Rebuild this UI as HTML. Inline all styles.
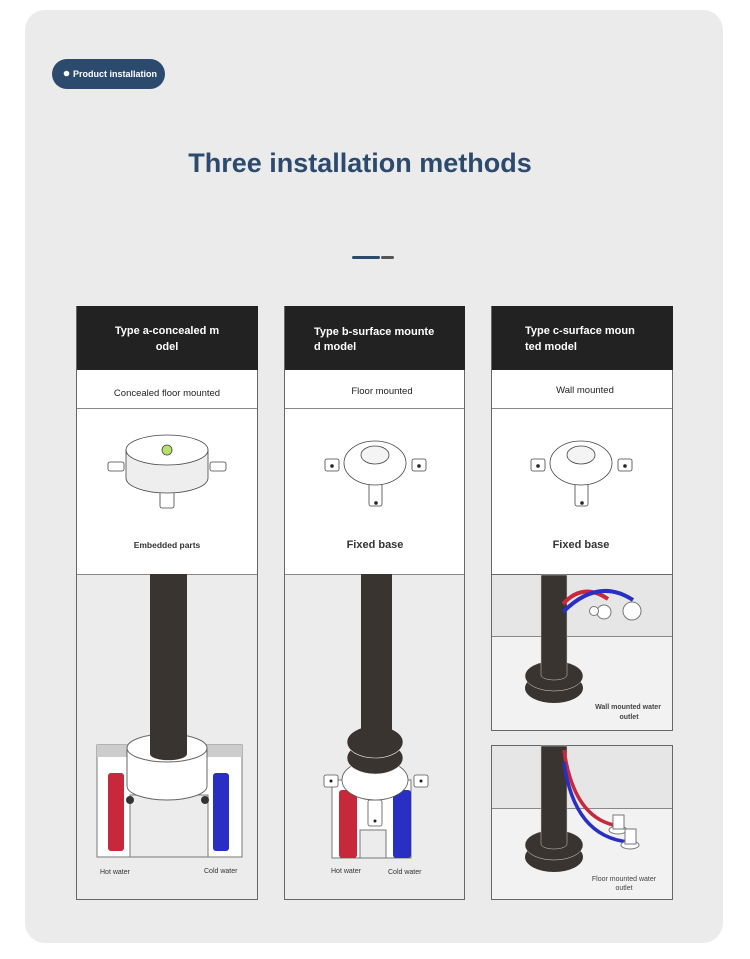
<!DOCTYPE html>
<html><head><meta charset="utf-8"><style>
html,body{margin:0;padding:0;background:#fff;}
svg{display:block;font-family:"Liberation Sans",sans-serif;}
</style></head><body>
<svg width="750" height="959" viewBox="0 0 750 959" xmlns="http://www.w3.org/2000/svg">
<rect x="25" y="10" width="698" height="933" rx="20" fill="#ebebeb"/>
<!-- pill -->
<rect x="52" y="59" width="113" height="30" rx="15" fill="#2c4a6e"/>
<circle cx="66.5" cy="73.5" r="2.8" fill="#fff"/>
<text x="73" y="77" font-size="9" font-weight="bold" fill="#fff">Product installation</text>
<!-- title -->
<text x="360" y="172" font-size="27" font-weight="bold" fill="#2c4a6e" text-anchor="middle">Three installation methods</text>
<rect x="352" y="256" width="28" height="3" rx="1.5" fill="#2c4a6e"/>
<rect x="381" y="256" width="13" height="3" rx="1.5" fill="#555"/>

<!-- column frames -->
<g stroke="#666" stroke-width="1">
<rect x="76.5" y="306.5" width="181" height="593" fill="#fff"/>
<rect x="284.5" y="306.5" width="180" height="593" fill="#fff"/>
<rect x="491.5" y="306.5" width="181" height="268" fill="#fff"/>
</g>
<rect x="77" y="306" width="181" height="64" fill="#222"/>
<rect x="285" y="306" width="180" height="64" fill="#222"/>
<rect x="492" y="306" width="181" height="64" fill="#222"/>
<g stroke="#888" stroke-width="1">
<line x1="77" y1="408.5" x2="257" y2="408.5"/><line x1="285" y1="408.5" x2="464" y2="408.5"/><line x1="492" y1="408.5" x2="672" y2="408.5"/>
</g>
<g font-size="11" font-weight="bold" fill="#fff">
<text x="167" y="334" text-anchor="middle">Type a-concealed m</text>
<text x="167" y="350" text-anchor="middle">odel</text>
<text x="314" y="335">Type b-surface mounte</text>
<text x="314" y="350">d model</text>
<text x="525" y="334">Type c-surface moun</text>
<text x="525" y="350">ted model</text>
</g>
<g font-size="9.5" fill="#222" text-anchor="middle">
<text x="167" y="396">Concealed floor mounted</text>
<text x="382" y="394">Floor mounted</text>
<text x="585" y="393">Wall mounted</text>
</g>
<g font-weight="bold" fill="#333" text-anchor="middle">
<text x="167" y="548" font-size="8.5">Embedded parts</text>
<text x="375" y="548" font-size="11">Fixed base</text>
<text x="581" y="548" font-size="11">Fixed base</text>
</g>

<!-- embedded part icon -->
<g stroke="#444" stroke-width="0.8" fill="#fff">
<rect x="108" y="462" width="16" height="9" rx="2"/><rect x="210" y="462" width="16" height="9" rx="2"/>
<rect x="160" y="490" width="14" height="18" rx="2"/>
<path d="M126 450 v28 a41 15 0 0 0 82 0 v-28" fill="#eee"/>
<ellipse cx="167" cy="450" rx="41" ry="15"/>
<circle cx="167" cy="450" r="5" fill="#b6e26b"/>
</g>
<!-- fixed base icons -->
<g stroke="#444" stroke-width="0.8" fill="#fff">
<g id="fb">
<rect x="325" y="459" width="14" height="12" rx="2"/><rect x="412" y="459" width="14" height="12" rx="2"/>
<rect x="369" y="484" width="13" height="22" rx="2"/>
<ellipse cx="375" cy="463" rx="31" ry="22"/>
<ellipse cx="375" cy="455" rx="14" ry="9" fill="#f4f4f4"/>
<circle cx="332" cy="466" r="1.5" fill="#222"/><circle cx="419" cy="466" r="1.5" fill="#222"/><circle cx="376" cy="503" r="1.5" fill="#222"/>
</g>
<use href="#fb" x="206"/>
</g>

<!-- lower a -->
<rect x="77" y="574" width="180" height="325" fill="#ececec"/>
<line x1="77" y1="574.5" x2="257" y2="574.5" stroke="#888"/>
<rect x="97" y="745" width="145" height="112" fill="#fff" stroke="#777"/>
<rect x="97" y="745" width="145" height="12" fill="#ccc"/>
<rect x="130" y="795" width="78" height="62" fill="#ececec" stroke="#777"/>
<rect x="108" y="773" width="16" height="78" rx="3" fill="#c8283c"/>
<rect x="213" y="773" width="16" height="78" rx="3" fill="#2a2fc4"/>
<path d="M127 748 v38 a40 14 0 0 0 80 0 v-38" fill="#fff" stroke="#666"/>
<ellipse cx="167" cy="748" rx="40" ry="14" fill="#fff" stroke="#666"/>
<circle cx="130" cy="800" r="4" fill="#333"/><circle cx="205" cy="800" r="4" fill="#333"/>
<path d="M150 574 h37 v180 a18 6 0 0 1 -37 0z" fill="#3a3431"/>
<text x="100" y="874" font-size="7" fill="#333">Hot water</text>
<text x="204" y="873" font-size="7" fill="#333">Cold water</text>

<!-- lower b -->
<rect x="285" y="574" width="179" height="325" fill="#ececec"/>
<line x1="285" y1="574.5" x2="464" y2="574.5" stroke="#888"/>
<rect x="332" y="780" width="79" height="78" fill="#fff" stroke="#777"/>
<rect x="360" y="830" width="26" height="28" fill="#ececec" stroke="#777"/>
<rect x="339" y="790" width="18" height="68" rx="3" fill="#c8283c"/>
<rect x="393" y="790" width="18" height="68" rx="3" fill="#2a2fc4"/>
<g stroke="#555" stroke-width="0.8" fill="#fff">
<rect x="324" y="775" width="14" height="12" rx="2"/><rect x="414" y="775" width="14" height="12" rx="2"/>
<rect x="368" y="800" width="14" height="26" rx="2"/>
<ellipse cx="375" cy="780" rx="33" ry="20"/>
</g>
<circle cx="331" cy="781" r="1.5" fill="#222"/><circle cx="421" cy="781" r="1.5" fill="#222"/><circle cx="375" cy="821" r="1.5" fill="#222"/>
<ellipse cx="375" cy="758" rx="28" ry="16" fill="#3a3431" stroke="#eee" stroke-width="0.6"/>
<ellipse cx="375" cy="742" rx="28" ry="16" fill="#3a3431" stroke="#eee" stroke-width="0.6"/>
<path d="M361 574 h31 v165 a15 5 0 0 1 -31 0z" fill="#3a3431"/>
<text x="331" y="873" font-size="7" fill="#333">Hot water</text>
<text x="388" y="874" font-size="7" fill="#333">Cold water</text>

<!-- c upper -->
<rect x="491.5" y="574.5" width="181" height="156" fill="#f2f2f2" stroke="#666"/>
<rect x="492" y="575" width="180" height="61" fill="#e6e6e6"/>
<line x1="492" y1="636.5" x2="672" y2="636.5" stroke="#888"/>
<ellipse cx="554" cy="688" rx="29" ry="15" fill="#3a3431"/>
<ellipse cx="554" cy="676" rx="29" ry="15" fill="#3a3431" stroke="#ddd" stroke-width="0.5"/>
<path d="M541 575 h26 v100 a13 5 0 0 1 -26 0z" fill="#3a3431" stroke="#ccc" stroke-width="0.5"/>
<path d="M563 604 q20 -22 45 -5" stroke="#c8283c" stroke-width="4" fill="none"/>
<path d="M563 612 q35 -35 70 -12" stroke="#2a2fc4" stroke-width="4" fill="none"/>
<circle cx="604" cy="612" r="7" fill="#fff" stroke="#777"/><circle cx="594" cy="611" r="4.5" fill="#fff" stroke="#777"/>
<circle cx="632" cy="611" r="9" fill="#fff" stroke="#777"/>
<text x="628" y="709" font-size="7" font-weight="bold" fill="#444" text-anchor="middle">Wall mounted water</text>
<text x="629" y="719" font-size="7" font-weight="bold" fill="#444" text-anchor="middle">outlet</text>

<!-- c lower -->
<rect x="491.5" y="745.5" width="181" height="154" fill="#f2f2f2" stroke="#666"/>
<rect x="492" y="746" width="180" height="62" fill="#e6e6e6"/>
<line x1="492" y1="808.5" x2="672" y2="808.5" stroke="#888"/>
<ellipse cx="554" cy="857" rx="29" ry="15" fill="#3a3431"/>
<ellipse cx="554" cy="845" rx="29" ry="15" fill="#3a3431" stroke="#ddd" stroke-width="0.5"/>
<path d="M541 746 h26 v98 a13 5 0 0 1 -26 0z" fill="#3a3431" stroke="#ccc" stroke-width="0.5"/>
<path d="M564 750 q10 70 55 76" stroke="#c8283c" stroke-width="3.5" fill="none"/>
<path d="M564 762 q10 75 65 80" stroke="#2a2fc4" stroke-width="3.5" fill="none"/>
<ellipse cx="618" cy="830" rx="9" ry="4" fill="#fff" stroke="#777"/>
<rect x="613" y="815" width="11" height="14" fill="#fff" stroke="#777"/>
<ellipse cx="630" cy="845" rx="9" ry="4" fill="#fff" stroke="#777"/>
<rect x="625" y="829" width="11" height="15" fill="#fff" stroke="#777"/>
<text x="624" y="881" font-size="7" fill="#444" text-anchor="middle">Floor mounted water</text>
<text x="624" y="890" font-size="7" fill="#444" text-anchor="middle">outlet</text>
</svg>
</body></html>
